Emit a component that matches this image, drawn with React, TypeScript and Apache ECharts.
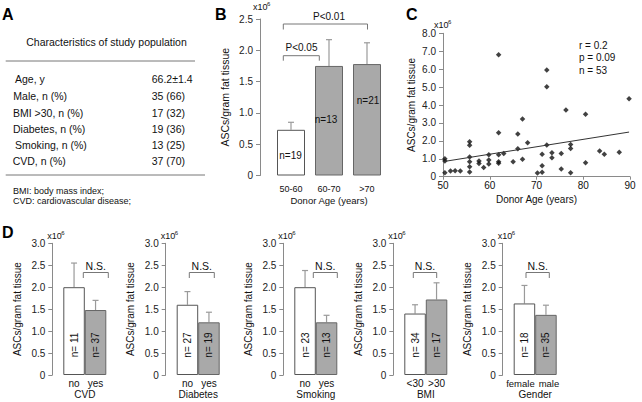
import React, { useEffect, useRef } from "react";
import * as echarts from "echarts";

const FONT = "'Liberation Sans', Arial, Helvetica, sans-serif";

// ---------- Panel A: table ----------
const tableTitle = "Characteristics of study population";
const tableRows = ["Age, y", "Male, n (%)", "BMI >30, n (%)", "Diabetes, n (%)", "Smoking, n (%)", "CVD, n (%)"];
const tableValues = ["66.2±1.4", "35 (66)", "17 (32)", "19 (36)", "13 (25)", "37 (70)"];
const tableNotes = ["BMI: body mass index;", "CVD: cardiovascular disease;"];

// ---------- Panel B ----------
const ageGroups = ["50-60", "60-70", ">70"];
const ageGroupMeans = [0.73, 1.75, 1.78];
const ageGroupUpper = [0.85, 2.17, 2.12];
const ageGroupN = ["n=19", "n=13", "n=21"];
const pLabels = ["P<0.05", "P<0.01"];

// ---------- Panel C ----------
const donorAges = [50.4, 50.4, 50.4, 51.6, 52.6, 53.7, 55.7, 55.7, 55.7, 55.7, 55.7, 55.7, 57.7, 57.7, 58.7, 59.8, 59.8, 59.8, 61.9, 61.9, 61.9, 61.9, 61.9, 63, 65, 66, 66, 67, 67, 68.1, 70.2, 71.2, 71.2, 71.2, 72.2, 72.2, 72.2, 73.3, 73.3, 75.3, 75.3, 76.3, 77.3, 77.3, 77.3, 80.5, 80.5, 83.5, 84.5, 87.7, 89.8];
const ascCounts = [1.0, 0.87, 0.22, 0.32, 0.33, 0.32, 1.95, 1.75, 1.1, 0.84, 0.56, 0.26, 0.87, 0.73, 0.52, 1.23, 0.93, 0.71, 6.8, 2.45, 1.23, 0.84, 0.75, 1.3, 0.84, 2.38, 1.56, 3.22, 0.97, 1.9, 0.21, 1.25, 0.61, 0.25, 5.95, 5.02, 1.77, 1.34, 1.06, 1.3, 0.43, 3.72, 1.8, 1.58, 0.22, 3.48, 0.78, 1.43, 1.25, 1.36, 4.35];
const trendAges = [50, 89.8];
const trendValues = [0.84, 2.49];
const statsText = ["r = 0.2", "p = 0.09", "n = 53"];

// ---------- Panel D ----------
const dTitles = ["CVD", "Diabetes", "Smoking", "BMI", "Gender"];
const dCategories = [["no", "yes"], ["no", "yes"], ["no", "yes"], ["<30", ">30"], ["female", "male"]];
const dMeans = [[2.0, 1.48], [1.6, 1.2], [2.0, 1.2], [1.4, 1.72], [1.63, 1.37]];
const dUpper = [[2.55, 1.7], [1.9, 1.43], [2.38, 1.36], [1.6, 2.1], [2.04, 1.59]];
const dN = [["n= 11", "n= 37"], ["n= 27", "n= 19"], ["n= 23", "n= 13"], ["n= 34", "n= 17"], ["n= 18", "n= 35"]];
const dSig = "N.S.";

// ---------- layout (pixels) ----------
const dAxisX = [52.3, 165.7, 283.3, 393.3, 502.7];
const dBracket = [[31, 56], [23.6, 48.6], [30, 54], [20, 43.4], [23.3, 46.6]];
const D_TOP = 243.3;
const D_H = 131.7;

const WHITE_BAR = { color: "#ffffff", borderColor: "#555555", borderWidth: 1 };
const GRAY_BAR = { color: "#a9a9a9", borderColor: "#666666", borderWidth: 1 };
const AXIS_COLOR = "#8a8a8a";
const ERR_COLOR = "#9a9a9a";

const fmt1 = (v: number) => (v === 0 ? "0" : v.toFixed(1));

function errRender(params: any, api: any) {
  const x = api.value(0);
  const base = api.coord([x, api.value(1)]);
  const top = api.coord([x, api.value(2)]);
  const cap = 3;
  return {
    type: "group",
    children: [
      { type: "line", shape: { x1: base[0], y1: base[1], x2: top[0], y2: top[1] }, style: { stroke: ERR_COLOR, lineWidth: 1.2 } },
      { type: "line", shape: { x1: top[0] - cap, y1: top[1], x2: top[0] + cap, y2: top[1] }, style: { stroke: ERR_COLOR, lineWidth: 1.2 } },
    ],
  };
}

function txt(x: number, y: number, text: string, fontSize: number, extra: any = {}) {
  return {
    type: "text",
    x,
    y,
    z: 100,
    silent: true,
    rotation: extra.rotation || 0,
    style: {
      text,
      fontSize,
      fontFamily: FONT,
      fontWeight: extra.fontWeight || "normal",
      fill: extra.fill || "#111",
      align: extra.align || "left",
      verticalAlign: extra.verticalAlign || "middle",
    },
  };
}

function bracket(x1: number, x2: number, y: number, leg: number) {
  return {
    type: "polyline",
    z: 100,
    silent: true,
    shape: { points: [[x1, y + leg], [x1, y], [x2, y], [x2, y + leg]] },
    style: { stroke: "#777", lineWidth: 1, fill: null },
  };
}

function x10(x: number, y: number) {
  return [txt(x, y, "x10", 9), txt(x + 14, y - 3, "6", 6)];
}

function yAxisCommon(max: number, interval: number, name: string, nameGap: number, offset: number, gridIndex: number, nameSize: number) {
  return {
    type: "value",
    gridIndex,
    min: 0,
    max,
    interval,
    offset,
    name,
    nameLocation: "middle",
    nameGap,
    nameRotate: 90,
    nameTextStyle: { fontFamily: FONT, fontSize: nameSize, color: "#111" },
    axisLine: { show: true, lineStyle: { color: AXIS_COLOR, width: 1 } },
    axisTick: { show: true, length: 4, lineStyle: { color: AXIS_COLOR } },
    axisLabel: { fontFamily: FONT, fontSize: 10, color: "#222", margin: 7, formatter: fmt1 },
    splitLine: { show: false },
  };
}

export default function App() {
  const ref = useRef<HTMLDivElement>(null);

  useEffect(() => {
    if (!ref.current) return;
    const chart = echarts.init(ref.current, undefined, { renderer: "svg" });

    const grids: any[] = [];
    const xAxes: any[] = [];
    const yAxes: any[] = [];
    const series: any[] = [];
    const graphics: any[] = [];

    // Panel B
    grids.push({ left: 272, top: 19, width: 114, height: 156.5 });
    xAxes.push({
      type: "category",
      gridIndex: 0,
      data: ageGroups,
      axisLine: { show: false },
      axisTick: { show: false },
      axisLabel: { fontFamily: FONT, fontSize: 9, color: "#111", margin: 9 },
      name: "Donor Age (years)",
      nameLocation: "middle",
      nameGap: 20,
      nameTextStyle: { fontFamily: FONT, fontSize: 9.5, color: "#111" },
    });
    yAxes.push(yAxisCommon(2.5, 0.5, "ASCs/gram fat tissue", 30, 12, 0, 10.5));
    series.push({
      type: "bar",
      xAxisIndex: 0,
      yAxisIndex: 0,
      barWidth: 28,
      data: ageGroupMeans.map((v, i) => ({ value: v, itemStyle: i === 0 ? WHITE_BAR : GRAY_BAR })),
    });
    series.push({
      type: "custom",
      xAxisIndex: 0,
      yAxisIndex: 0,
      renderItem: errRender,
      data: ageGroupMeans.map((v, i) => [i, v, ageGroupUpper[i]]),
    });

    // Panel C
    grids.push({ left: 443, top: 33.3, width: 187, height: 143.4 });
    xAxes.push({
      type: "value",
      gridIndex: 1,
      min: 50,
      max: 90,
      interval: 10,
      axisLine: { show: true, lineStyle: { color: AXIS_COLOR } },
      axisTick: { show: true, length: 3, lineStyle: { color: AXIS_COLOR } },
      axisLabel: { fontFamily: FONT, fontSize: 10, color: "#111", margin: 4 },
      splitLine: { show: false },
      name: "Donor Age (years)",
      nameLocation: "middle",
      nameGap: 18,
      nameTextStyle: { fontFamily: FONT, fontSize: 10, color: "#111" },
    });
    yAxes.push(yAxisCommon(8, 1, "ASCs/gram fat tissue", 27, 0, 1, 10));
    series.push({
      type: "scatter",
      xAxisIndex: 1,
      yAxisIndex: 1,
      symbol: "diamond",
      symbolSize: 5.5,
      itemStyle: { color: "#111" },
      data: donorAges.map((a, i) => [a, ascCounts[i]]),
    });
    series.push({
      type: "line",
      xAxisIndex: 1,
      yAxisIndex: 1,
      symbol: "none",
      lineStyle: { color: "#333", width: 1 },
      data: trendAges.map((a, i) => [a, trendValues[i]]),
    });

    // Panel D
    dTitles.forEach((title, k) => {
      const gi = 2 + k;
      const A = dAxisX[k];
      grids.push({ left: A + 11, top: D_TOP, width: 43, height: D_H });
      const isGender = k === 4;
      xAxes.push({
        type: "category",
        gridIndex: gi,
        data: dCategories[k],
        axisLine: { show: false },
        axisTick: { show: false },
        axisLabel: isGender
          ? {
              fontFamily: FONT,
              fontSize: 9.5,
              color: "#111",
              margin: 3,
              interval: 0,
              formatter: (v: string, i: number) => (i === 0 ? "{l|" + v + "}" : "{r|" + v + "}"),
              rich: {
                l: { fontFamily: FONT, fontSize: 9.5, color: "#111", padding: [0, 8, 0, 0] },
                r: { fontFamily: FONT, fontSize: 9.5, color: "#111", padding: [0, 0, 0, 6] },
              },
            }
          : { fontFamily: FONT, fontSize: 10, color: "#111", margin: 3, interval: 0 },
        name: title,
        nameLocation: "middle",
        nameGap: 14,
        nameTextStyle: { fontFamily: FONT, fontSize: 10, color: "#111" },
      });
      yAxes.push(yAxisCommon(3, 0.5, "ASCs/gram fat tissue", 30, 11, gi, 10));
      series.push({
        type: "bar",
        xAxisIndex: gi,
        yAxisIndex: gi,
        barWidth: 21.5,
        data: dMeans[k].map((v, i) => ({ value: v, itemStyle: i === 0 ? WHITE_BAR : GRAY_BAR })),
      });
      series.push({
        type: "custom",
        xAxisIndex: gi,
        yAxisIndex: gi,
        renderItem: errRender,
        data: dMeans[k].map((v, i) => [i, v, dUpper[k][i]]),
      });
      // annotations
      const [b1, b2] = dBracket[k];
      graphics.push(bracket(A + b1, A + b2, 272.5, 5.5));
      graphics.push(txt(A + (b1 + b2) / 2, 265.5, dSig, 10.5, { align: "center" }));
      graphics.push(...x10(A - 5, 236));
      dN[k].forEach((n, i) => {
        graphics.push(txt(A + 11 + 10.75 + i * 21.5, 345, n, 10, { align: "center", rotation: Math.PI / 2 }));
      });
    });

    // Panel A graphics
    graphics.push(txt(2, 14, "A", 16, { fontWeight: "bold", fill: "#000" }));
    graphics.push(txt(106.5, 41.5, tableTitle, 10.5, { align: "center" }));
    graphics.push({ type: "line", z: 100, silent: true, shape: { x1: 5.7, y1: 61, x2: 195, y2: 61 }, style: { stroke: "#777", lineWidth: 1 } });
    const rowY = [79.3, 96, 112.7, 129, 145, 160.5];
    const rowX = [15, 13.3, 13, 13, 15, 12.7];
    tableRows.forEach((r, i) => {
      graphics.push(txt(rowX[i], rowY[i], r, 10.5));
      graphics.push(txt(151.7, rowY[i], tableValues[i], 10.5));
    });
    graphics.push({ type: "line", z: 100, silent: true, shape: { x1: 5.7, y1: 175, x2: 205, y2: 175 }, style: { stroke: "#777", lineWidth: 1 } });
    tableNotes.forEach((n, i) => graphics.push(txt(13, 190.7 + i * 10.5, n, 9)));

    // Panel B annotations
    graphics.push(txt(215, 14, "B", 16, { fontWeight: "bold", fill: "#000" }));
    graphics.push(...x10(253, 7));
    graphics.push(bracket(283.3, 319.3, 55.7, 5));
    graphics.push(txt(301.5, 47.5, pLabels[0], 10, { align: "center" }));
    graphics.push(bracket(283.3, 367.5, 24, 5.5));
    graphics.push(txt(329, 16, pLabels[1], 10, { align: "center" }));
    const bNPos = [[290.5, 155], [326, 119], [368, 100]];
    ageGroupN.forEach((n, i) => graphics.push(txt(bNPos[i][0], bNPos[i][1], n, 10, { align: "center" })));

    // Panel C annotations
    graphics.push(txt(406, 14, "C", 16, { fontWeight: "bold", fill: "#000" }));
    graphics.push(...x10(434, 25));
    statsText.forEach((s, i) => graphics.push(txt(579, 45 + i * 12.5, s, 10)));

    // Panel D label
    graphics.push(txt(2, 232, "D", 16, { fontWeight: "bold", fill: "#000" }));

    chart.setOption({
      animation: false,
      backgroundColor: "#ffffff",
      textStyle: { fontFamily: FONT },
      grid: grids,
      xAxis: xAxes,
      yAxis: yAxes,
      series,
      graphic: { elements: graphics },
    });

    return () => chart.dispose();
  }, []);

  return (
    <div
      ref={ref}
      style={{ position: "fixed", left: 0, top: 0, width: 642, height: 402, background: "#fff" }}
    />
  );
}
